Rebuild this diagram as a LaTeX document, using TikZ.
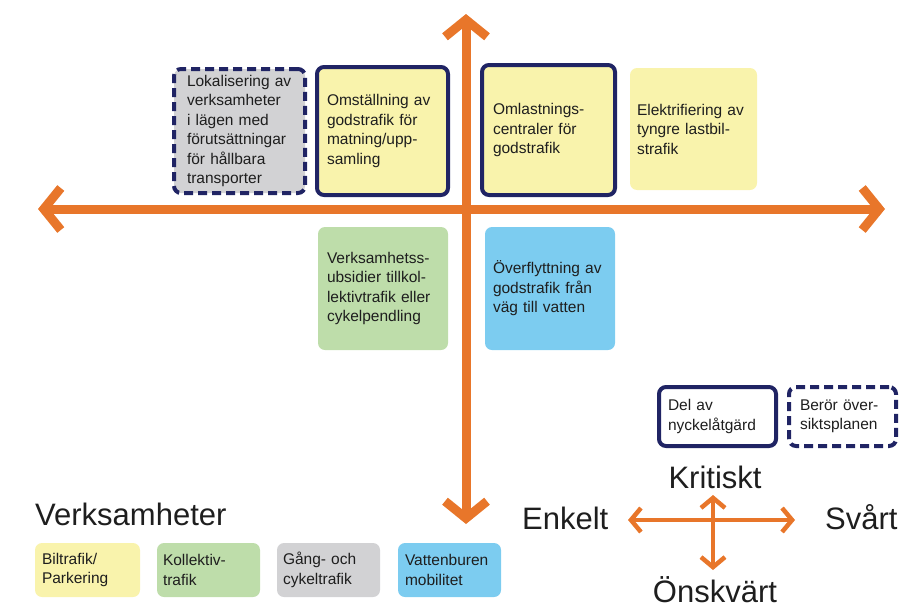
\documentclass[tikz,border=0pt]{standalone}
\usepackage{fontspec}
\setmainfont{Liberation Sans}
\usetikzlibrary{arrows.meta}
\definecolor{ora}{RGB}{232,118,42}
\definecolor{navy}{RGB}{32,36,100}
\definecolor{yel}{RGB}{249,243,172}
\definecolor{grn}{RGB}{190,221,170}
\definecolor{gry}{RGB}{210,210,212}
\definecolor{blu}{RGB}{124,204,240}
\definecolor{txt}{RGB}{30,30,30}
\tikzset{
  box/.style={rounded corners=7pt, inner ysep=0pt, align=left, text=txt,
    font=\fontsize{15.5}{19.5}\selectfont, anchor=center},
  solidb/.style={draw=navy, line width=4pt},
  dashb/.style={draw=navy, line width=4pt, dash pattern=on 9pt off 5pt},
  bigarrow/.style={draw=ora, line width=9pt, {Straight Barb[length=17pt,width=42pt]}-{Straight Barb[length=17pt,width=42pt]}},
  smallarrow/.style={draw=ora, line width=4.5pt, {Straight Barb[length=10pt,width=24pt]}-{Straight Barb[length=10pt,width=24pt]}},
  big/.style={font=\fontsize{31}{36}\selectfont, text=txt, inner sep=0pt}
}
\begin{document}
\begin{tikzpicture}[x=1pt,y=-1pt]
\useasboundingbox (0,0) rectangle (901,608);
% main axes
\coordinate (hl) at (38,209);
\coordinate (hr) at (885,209);
\coordinate (vt) at (466,14);
\coordinate (vb) at (466,524);
\draw[bigarrow] (hl) -- (hr);
\draw[bigarrow] (vt) -- (vb);
% upper boxes
\node[box, dashb, fill=gry, minimum width=131pt, minimum height=124pt, inner xsep=13pt, text width=105pt] (lok) at (239.5,131)
 {Lokalisering av\\verksamheter\\i lägen med\\förutsättningar\\för hållbara\\transporter};
\node[box, solidb, fill=yel, minimum width=131pt, minimum height=128pt, inner xsep=10pt, text width=111pt] (oms) at (382.5,131)
 {Omställning av\\godstrafik för\\matning/upp-\\samling};
\node[box, solidb, fill=yel, minimum width=133pt, minimum height=130pt, inner xsep=11pt, text width=111pt] (oml) at (548.5,130)
 {Omlastnings-\\centraler för\\godstrafik};
\node[box, fill=yel, minimum width=127pt, minimum height=122pt, inner xsep=7pt, text width=113pt] (ele) at (693.5,129)
 {Elektrifiering av\\tyngre lastbil-\\strafik};
\node[box, fill=grn, minimum width=130pt, minimum height=123pt, inner xsep=9pt, text width=112pt] (ver) at (383,288.5)
 {Verksamhetss-\\ubsidier tillkol-\\lektivtrafik eller\\cykelpendling};
\node[box, fill=blu, minimum width=130pt, minimum height=123pt, inner xsep=8pt, text width=114pt] (ove) at (550,288.5)
 {Överflyttning av\\godstrafik från\\väg till vatten};
% legend for borders
\node[box, solidb, fill=white, minimum width=117pt, minimum height=59pt, inner xsep=9pt, text width=99pt] (del) at (717.5,416.5)
 {Del av\\nyckelåtgärd};
\node[box, dashb, fill=white, minimum width=107pt, minimum height=59pt, inner xsep=11pt, text width=85pt] (ber) at (842.5,416.5)
 {Berör över-\\siktsplanen};
% small cross
\node[big, anchor=base] (kri) at (715,488) {Kritiskt};
\node[big, anchor=base west] (enk) at (522,529) {Enkelt};
\node[big, anchor=base west] (sva) at (825,529) {Svårt};
\node[big, anchor=base] (ons) at (715,602) {Önskvärt};
\coordinate (sl) at (628,520);
\coordinate (sr) at (795,520);
\coordinate (st) at (713,495);
\coordinate (sb) at (713,570);
\draw[smallarrow] (sl) -- (sr);
\draw[smallarrow] (st) -- (sb);
% Verksamheter legend
\node[big, anchor=base west] (vh) at (35,525) {Verksamheter};
\node[box, fill=yel, minimum width=105pt, minimum height=54pt, inner xsep=7pt, text width=91pt] (bil) at (87.5,570)
 {Biltrafik/\\Parkering};
\node[box, fill=grn, minimum width=103pt, minimum height=54pt, inner xsep=6pt, text width=91pt] (kol) at (208.5,570)
 {Kollektiv-\\trafik};
\node[box, fill=gry, minimum width=103pt, minimum height=54pt, inner xsep=6pt, text width=91pt] (gan) at (328.5,570)
 {Gång- och\\cykeltrafik};
\node[box, fill=blu, minimum width=103pt, minimum height=54pt, inner xsep=7pt, text width=89pt] (vat) at (449.5,570)
 {Vattenburen\\mobilitet};
\end{tikzpicture}
\end{document}
